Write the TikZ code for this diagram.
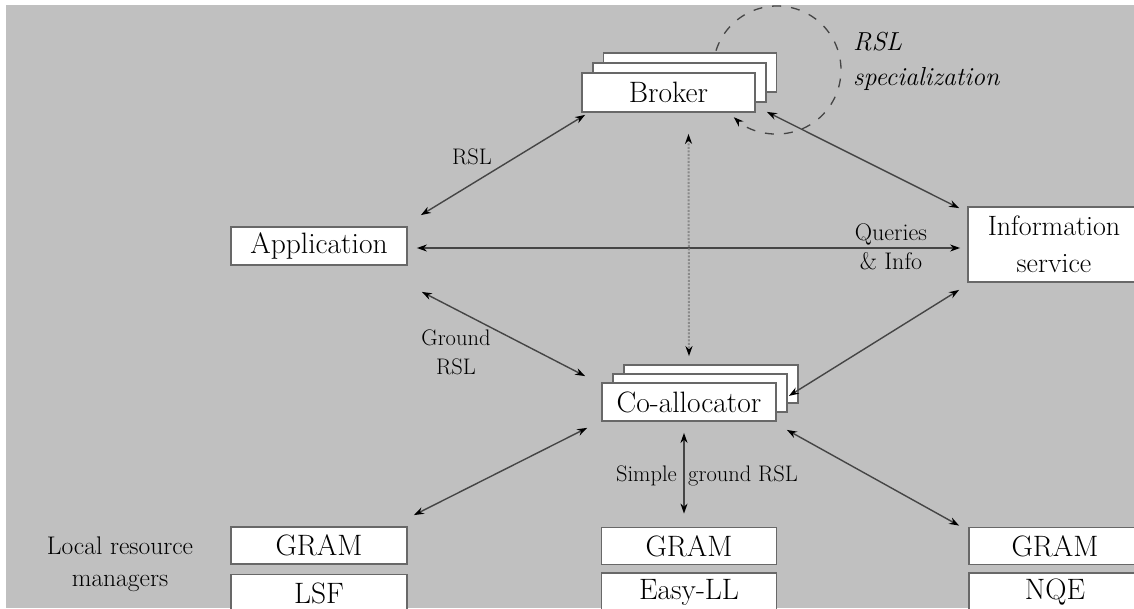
\documentclass[tikz,border=0pt]{standalone}
\usetikzlibrary{arrows.meta}
\definecolor{bg}{HTML}{C0C0C0}
\definecolor{edge}{HTML}{686868}
\definecolor{wire}{HTML}{454545}
\definecolor{dotwire}{HTML}{8A8A8A}

\begin{document}
\begin{tikzpicture}[x=1pt,y=-1pt,
  box/.style={draw=edge, fill=white, line width=1.8pt, inner sep=0pt,
    minimum width=174pt, minimum height=38pt, font=\fontsize{29.5}{31}\selectfont},
  lbl/.style={font=\fontsize{22.5}{28}\selectfont, inner sep=0pt, text=black},
  link/.style={draw=wire, line width=1.4pt, {Stealth[length=10pt,width=7pt,color=black]}-{Stealth[length=10pt,width=7pt,color=black]}},
  dotlink/.style={link, draw=dotwire, line width=2pt, dash pattern=on 2pt off 1.5pt},
  loop/.style={draw=wire, line width=1.3pt, dash pattern=on 9pt off 10pt,
    -{Stealth[length=10pt,width=7pt,color=black]}},
]
\useasboundingbox (0,0) rectangle (1134,608);
\fill[white] (0,0) rectangle (1134,608);
\fill[bg] (6,5) rectangle (1134,608);

% self loop of the broker (RSL specialization)
\coordinate (loopc) at (777,70);
\draw[loop] (loopc) ++(197.6:64) arc[start angle=197.6, end angle=492.5, radius=64];

% broker stack
\node[box, minimum width=173pt, minimum height=39pt] (brokerC) at (690,72.5) {};
\node[box, minimum width=173pt, minimum height=39pt] (brokerB) at (679.5,82.5) {};
\node[box, minimum width=173pt, minimum height=39pt] (broker) at (668.5,92.5) {Broker};

% co-allocator stack
\node[box] (coC) at (711,384) {};
\node[box] (coB) at (700,393) {};
\node[box] (co) at (689,402) {Co-allocator};

% application and information service
\node[box, minimum width=176pt] (app) at (319,246) {Application};
\node[box, minimum width=172pt, minimum height=75pt, align=center,
  font=\fontsize{28}{37}\selectfont] (info) at (1054,244.5) {Information\\service};

% local resource managers
\node[box, minimum width=176pt, minimum height=37pt] (gramL) at (319,545.5) {GRAM};
\node[box, minimum width=176pt] (lsf) at (319,593.5) {LSF};
\node[box, minimum width=175pt, minimum height=37pt] (gramM) at (689,546) {GRAM};
\node[box, minimum width=175pt] (easy) at (689,592) {Easy-LL};
\node[box, minimum width=172pt, minimum height=37pt] (gramR) at (1055,546) {GRAM};
\node[box, minimum width=172pt] (nqe) at (1055,592) {NQE};

% connectors
\draw[link] ([shift={(13,-11)}]app.north east) -- ([shift={(4,2)}]broker.south west);
\draw[link] ([shift={(9,2)}]app.east) -- ([shift={(-7,3.5)}]info.west);
\draw[link] ([shift={(14,26)}]app.south east) -- ([shift={(-16,-6)}]co.north west);
\draw[dotlink] ([shift={(20,21)}]broker.south) -- ([shift={(0,-26)}]co.north);
\draw[link] ([shift={(11,-1)}]broker.south east) -- ([shift={(-8,2)}]info.north west);
\draw[link] ([shift={(-8,7)}]info.south west) -- ([shift={(12,-26)}]co.south east);
\draw[link] ([shift={(-14,6)}]co.south west) -- ([shift={(6,-11)}]gramL.north east);
\draw[link] ([shift={(-5,11)}]co.south) -- ([shift={(-5,-13)}]gramM.north);
\draw[link] ([shift={(10,8)}]co.south east) -- ([shift={(-9,-1)}]gramR.north west);

% labels
\node[lbl] (lRSL) at (472,157) {RSL};
\node[lbl, align=center, font=\fontsize{22.5}{29}\selectfont] (lGround) at (456,352) {Ground\\RSL};
\node[lbl, align=center, font=\fontsize{24}{29}\selectfont] (lQueries) at (891,247) {Queries\\\& Info};
\node[lbl, anchor=east] (lSimple) at (677,476) {Simple};
\node[lbl, anchor=west] (lGroundRSL) at (688,476) {ground RSL};
\node[lbl, align=left, anchor=west, font=\fontsize{26}{35}\itshape] (lSpec) at (853,61) {RSL\\specialization};
\node[lbl, align=center, font=\fontsize{25.5}{32}\selectfont] (lLocal) at (120,564) {Local resource\\managers};
\end{tikzpicture}
\end{document}
